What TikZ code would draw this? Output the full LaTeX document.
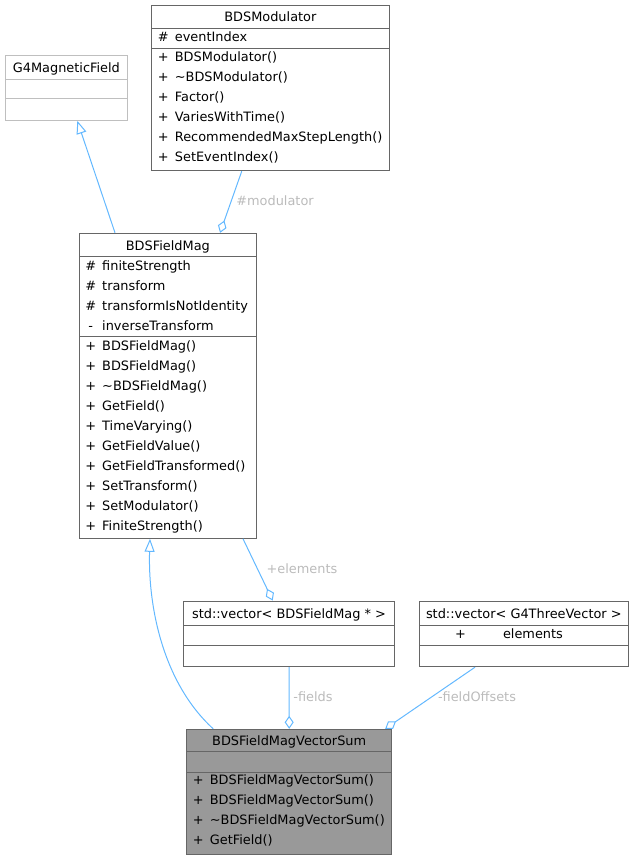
\documentclass[tikz,border=0pt]{standalone}
\usepackage{fontspec}
\setmainfont{DejaVu Sans}
\usetikzlibrary{arrows.meta}
\definecolor{edgeblue}{HTML}{63B8FF}
\definecolor{labelgray}{HTML}{BBBBBB}
\definecolor{boxgray}{HTML}{666666}
\definecolor{lightborder}{HTML}{BFBFBF}
\definecolor{sumfill}{HTML}{999999}
\newcommand{\umlmem}[2]{\makebox[11pt][c]{#1}\hspace{6pt}#2}
\tikzset{
	umlbox/.style={draw=boxgray, line width=1pt, inner sep=0pt},
	boxtitle/.style={anchor=base, inner sep=0pt},
	member/.style={anchor=base west, inner sep=0pt},
	sepline/.style={draw=boxgray, line width=1pt},
	aggr/.style={draw=edgeblue, line width=1pt, -{Diamond[open,length=13pt,width=9pt]}},
	inherit/.style={draw=edgeblue, line width=1pt, -{Triangle[open,length=13pt,width=10pt]}},
	edgelabel/.style={text=labelgray, anchor=base, inner sep=0pt},
}
\begin{document}
\begin{tikzpicture}[x=1pt, y=-1pt, font=\fontsize{12.9}{15}\selectfont]
			\useasboundingbox (0,0) rectangle (634,860);

			% BDSModulator
			\node[umlbox, minimum width=237.3pt, minimum height=165.4pt] (mod) at (270.35,88) {};
				\draw[sepline](151.7,28.3) to (389,28.3);
				\draw[sepline](151.7,48.3) to (389,48.3);
				\node[boxtitle] (modT) at (270.35,21.2) {BDSModulator};
				\node[member] (modA1) at (157.7,41.3) {\umlmem{\#}{eventIndex}};
				\node[member] (modM1) at (157.7,61.3) {\umlmem{+}{BDSModulator()}};
				\node[member] (modM2) at (157.7,81.3) {\umlmem{+}{\textasciitilde BDSModulator()}};
				\node[member] (modM3) at (157.7,101.3) {\umlmem{+}{Factor()}};
				\node[member] (modM4) at (157.7,121.3) {\umlmem{+}{VariesWithTime()}};
				\node[member] (modM5) at (157.7,141.3) {\umlmem{+}{RecommendedMaxStepLength()}};
				\node[member] (modM6) at (157.7,161.3) {\umlmem{+}{SetEventIndex()}};

			% G4MagneticField
			\node[umlbox, draw=lightborder, minimum width=122.7pt, minimum height=65pt] (g4) at (66.35,87.8) {};
				\draw[sepline, draw=lightborder](5,79) to (127.7,79);
				\draw[sepline, draw=lightborder](5,98.7) to (127.7,98.7);
				\node[boxtitle] (g4T) at (66.35,72) {G4MagneticField};

			% BDSFieldMag
			\node[umlbox, minimum width=177.7pt, minimum height=305pt] (fm) at (167.85,385.8) {};
				\draw[sepline](79,256.7) to (256.7,256.7);
				\draw[sepline](79,336.7) to (256.7,336.7);
				\node[boxtitle] (fmT) at (167.85,250) {BDSFieldMag};
				\node[member] (fmA1) at (85,270) {\umlmem{\#}{finiteStrength}};
				\node[member] (fmA2) at (85,290) {\umlmem{\#}{transform}};
				\node[member] (fmA3) at (85,310) {\umlmem{\#}{transformIsNotIdentity}};
				\node[member] (fmA4) at (85,330) {\umlmem{-}{inverseTransform}};
				\node[member] (fmM1) at (85,350.5) {\umlmem{+}{BDSFieldMag()}};
				\node[member] (fmM2) at (85,370.5) {\umlmem{+}{BDSFieldMag()}};
				\node[member] (fmM3) at (85,390.5) {\umlmem{+}{\textasciitilde BDSFieldMag()}};
				\node[member] (fmM4) at (85,410.5) {\umlmem{+}{GetField()}};
				\node[member] (fmM5) at (85,430.5) {\umlmem{+}{TimeVarying()}};
				\node[member] (fmM6) at (85,450.5) {\umlmem{+}{GetFieldValue()}};
				\node[member] (fmM7) at (85,470.5) {\umlmem{+}{GetFieldTransformed()}};
				\node[member] (fmM8) at (85,490.5) {\umlmem{+}{SetTransform()}};
				\node[member] (fmM9) at (85,510.5) {\umlmem{+}{SetModulator()}};
				\node[member] (fmM10) at (85,530.5) {\umlmem{+}{FiniteStrength()}};

			% std::vector< BDSFieldMag * >
			\node[umlbox, minimum width=210.6pt, minimum height=65.7pt] (vecfm) at (289,633.85) {};
				\draw[sepline](183.7,625) to (394.3,625);
				\draw[sepline](183.7,645) to (394.3,645);
				\node[boxtitle] (vecfmT) at (289,618) {std::vector< BDSFieldMag * >};

			% std::vector< G4ThreeVector >
			\node[umlbox, minimum width=209.7pt, minimum height=65.7pt] (vecg4) at (523.85,633.85) {};
				\draw[sepline](419,625) to (628.7,625);
				\draw[sepline](419,645) to (628.7,645);
				\node[boxtitle] (vecg4T) at (523.85,618) {std::vector< G4ThreeVector >};
				\node[member] (vecg4A1) at (455,638) {+\hspace{37pt}elements};

			% BDSFieldMagVectorSum
			\node[umlbox, fill=sumfill, minimum width=205pt, minimum height=124.7pt] (sum) at (289.2,791.65) {};
				\draw[sepline](186.7,751.7) to (391.7,751.7);
				\draw[sepline](186.7,772.3) to (391.7,772.3);
				\node[boxtitle] (sumT) at (289.2,745.4) {BDSFieldMagVectorSum};
				\node[member] (sumM1) at (192.7,784.7) {\umlmem{+}{BDSFieldMagVectorSum()}};
				\node[member] (sumM2) at (192.7,804.7) {\umlmem{+}{BDSFieldMagVectorSum()}};
				\node[member] (sumM3) at (192.7,824.7) {\umlmem{+}{\textasciitilde BDSFieldMagVectorSum()}};
				\node[member] (sumM4) at (192.7,844.7) {\umlmem{+}{GetField()}};

			% connectors
			\draw[inherit]([xshift=-52.85pt]fm.north) to ([xshift=10.95pt]g4.south);
			\draw[aggr]([xshift=-28.6pt]mod.south) to ([xshift=52.2pt]fm.north);
				\node[edgelabel] (lmod) at (275,205) {\#modulator};
			\draw[inherit]([xshift=-76pt]sum.north) .. controls (160,680) and (148,600) .. ([xshift=-17.85pt]fm.south);
			\draw[aggr]([xshift=75.15pt]fm.south) to ([xshift=-16.3pt]vecfm.north);
				\node[edgelabel] (lelem) at (302,573) {+elements};
			\draw[aggr](vecfm.south) to (sum.north);
				\node[edgelabel] (lfields) at (313,701.5) {-fields};
			\draw[aggr]([xshift=-48.85pt]vecg4.south) to ([xshift=96pt]sum.north);
				\node[edgelabel] (loffs) at (477,701.5) {-fieldOffsets};
		\end{tikzpicture}
\end{document}
